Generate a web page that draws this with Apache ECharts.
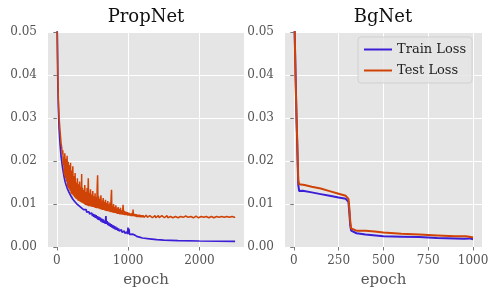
<!DOCTYPE html>
<html>
<head>
<meta charset="utf-8">
<script src="https://cdn.jsdelivr.net/npm/echarts@6/dist/echarts.min.js"></script>
<style>html,body{margin:0;padding:0;background:#fff;}#c{width:499px;height:299px;}</style>
</head>
<body>
<div id="c"></div>
<script>
const titles = ['PropNet', 'BgNet'];
const seriesNames = ['Train Loss', 'Test Loss'];
const yTicks = [0, 0.01, 0.02, 0.03, 0.04, 0.05];
const propXTicks = [0, 1000, 2000];
const bgXTicks = [0, 250, 500, 750, 1000];

const propTrain = [[1,0.09],[5,0.05],[14,0.038],[22,0.032],[32,0.0275],[45,0.024],[60,0.021],[80,0.0185],[100,0.0165],[115,0.0153],[130,0.0144],[145,0.0137],[160,0.0131],[180,0.0124],[200,0.0118],[225,0.0111],[250,0.0106],[275,0.0101],[300,0.0097],[325,0.0094],[350,0.0091],[375,0.0087],[400,0.0084],[410,0.0087],[420,0.0081],[430,0.0085],[440,0.0079],[450,0.0082],[460,0.0077],[470,0.0081],[480,0.0074],[490,0.0079],[500,0.0072],[510,0.0077],[520,0.0070],[530,0.0076],[540,0.0068],[550,0.0074],[560,0.0066],[570,0.0072],[580,0.0063],[590,0.0070],[600,0.0062],[610,0.0068],[620,0.0059],[630,0.0066],[640,0.0057],[650,0.0064],[660,0.0056],[670,0.0061],[680,0.0054],[688,0.0072],[695,0.0054],[705,0.0060],[715,0.0051],[725,0.0057],[735,0.0049],[745,0.0055],[755,0.0047],[765,0.0053],[775,0.0045],[785,0.0051],[795,0.0043],[805,0.0049],[815,0.0041],[825,0.0047],[835,0.0040],[845,0.0045],[855,0.0038],[865,0.0043],[875,0.0037],[885,0.0041],[895,0.0035],[905,0.0040],[915,0.0034],[925,0.0038],[935,0.0033],[945,0.0037],[955,0.0032],[965,0.0036],[975,0.0031],[985,0.0035],[992,0.0030],[998,0.0045],[1004,0.0031],[1012,0.0042],[1020,0.0029],[1030,0.0033],[1045,0.0028],[1060,0.0030],[1080,0.0026],[1100,0.0027],[1130,0.0024],[1160,0.0023],[1200,0.0021],[1300,0.0019],[1400,0.0017],[1500,0.0016],[1700,0.0015],[2000,0.0014],[2500,0.0013]];

const propTest = [[1,0.09],[5,0.052],[14,0.040],[22,0.034],[32,0.030],[45,0.027],[60,0.024],[68,0.0232],[76,0.0215],[84,0.0225],[90,0.0190],[96,0.0210],[104,0.0168],[112,0.0218],[120,0.0160],[128,0.0205],[136,0.0152],[144,0.0212],[152,0.0140],[160,0.0198],[168,0.0136],[176,0.0190],[184,0.0131],[192,0.0196],[200,0.0124],[208,0.0178],[216,0.0122],[224,0.0188],[232,0.0119],[240,0.0165],[248,0.0116],[256,0.0172],[264,0.0113],[272,0.0150],[280,0.0111],[288,0.0160],[296,0.0108],[304,0.0146],[312,0.0107],[320,0.0152],[328,0.0105],[336,0.0140],[344,0.0104],[348,0.0170],[352,0.0103],[360,0.0138],[368,0.0102],[376,0.0133],[384,0.0100],[392,0.0144],[400,0.0098],[408,0.0128],[416,0.0097],[424,0.0137],[432,0.0096],[441,0.0160],[448,0.0095],[456,0.0126],[464,0.0095],[472,0.0134],[480,0.0094],[488,0.0122],[496,0.0093],[504,0.0130],[512,0.0093],[520,0.0118],[528,0.0092],[536,0.0125],[544,0.0091],[552,0.0116],[560,0.0090],[566,0.0140],[572,0.0167],[578,0.0090],[586,0.0118],[594,0.0089],[602,0.0112],[610,0.0088],[618,0.0120],[626,0.0087],[634,0.0108],[642,0.0086],[650,0.0114],[658,0.0086],[666,0.0105],[674,0.0085],[682,0.0110],[690,0.0084],[698,0.0102],[706,0.0083],[714,0.0107],[722,0.0083],[730,0.0099],[738,0.0082],[746,0.0104],[754,0.0081],[762,0.0118],[767,0.0133],[772,0.0081],[780,0.0096],[788,0.0080],[796,0.0100],[804,0.0079],[812,0.0093],[820,0.0079],[828,0.0097],[836,0.0078],[844,0.0090],[852,0.0077],[860,0.0093],[868,0.0077],[876,0.0088],[884,0.0076],[892,0.0091],[900,0.0076],[910,0.0085],[920,0.0075],[929,0.0098],[936,0.0075],[946,0.0084],[956,0.0074],[966,0.0082],[976,0.0074],[986,0.0081],[996,0.0073],[1008,0.0080],[1020,0.0073],[1032,0.0078],[1044,0.0072],[1056,0.0079],[1064,0.0072],[1069,0.0087],[1076,0.0072],[1090,0.0077],[1100,0.0071],[1112,0.0076],[1124,0.0070],[1136,0.0075],[1148,0.0070],[1160,0.0075],[1172,0.0069],[1184,0.0074],[1196,0.0069],
[1208,0.0074],[1220,0.0069],[1232,0.0073],[1244,0.0068],[1256,0.0074],[1268,0.0069],[1280,0.0072],[1292,0.0068],[1304,0.0073],[1316,0.0069],[1328,0.0074],[1340,0.0068],[1352,0.0072],[1364,0.0069],[1376,0.0073],[1388,0.0068],[1400,0.0072],[1412,0.0069],[1424,0.0073],[1436,0.0068],[1448,0.0072],[1460,0.0068],[1472,0.0073],[1484,0.0069],[1496,0.0072],[1508,0.0068],[1520,0.0072],[1532,0.0069],[1544,0.0073],[1556,0.0068],[1568,0.0072],[1580,0.0068],[1592,0.0071],[1604,0.0069],[1616,0.0072],[1628,0.0068],[1640,0.0072],[1652,0.0068],[1664,0.0071],[1676,0.0069],[1688,0.0072],[1700,0.0068],[1712,0.0072],[1724,0.0068],[1736,0.0071],[1748,0.0068],[1760,0.0072],[1772,0.0069],[1784,0.0071],[1796,0.0068],[1808,0.0072],[1820,0.0068],[1832,0.0071],[1844,0.0069],[1856,0.0072],[1868,0.0068],[1880,0.0071],[1892,0.0068],[1904,0.0072],[1916,0.0068],[1928,0.0071],[1940,0.0069],[1952,0.0072],[1964,0.0068],[1976,0.0071],[1988,0.0068],[2000,0.0072],[2012,0.0068],[2024,0.0071],[2036,0.0068],[2048,0.0071],[2060,0.0069],[2072,0.0072],[2084,0.0068],[2096,0.0071],[2108,0.0068],[2120,0.0071],[2132,0.0068],[2144,0.0072],[2156,0.0068],[2168,0.0071],[2180,0.0069],[2192,0.0071],[2204,0.0068],[2216,0.0072],[2228,0.0068],[2240,0.0071],[2252,0.0068],[2264,0.0071],[2276,0.0069],[2288,0.0072],[2300,0.0068],[2312,0.0071],[2324,0.0068],[2336,0.0071],[2348,0.0069],[2360,0.0072],[2372,0.0068],[2384,0.0071],[2396,0.0068],[2408,0.0071],[2420,0.0069],[2432,0.0072],[2444,0.0068],[2456,0.0071],[2468,0.0068],[2480,0.0071],[2492,0.0069],[2500,0.0070]];

const bgTrain = [[1,0.06],[5,0.05],[10,0.04],[15,0.031],[20,0.022],[25,0.0145],[30,0.013],[35,0.0134],[40,0.013],[50,0.0131],[100,0.0127],[150,0.0123],[200,0.0119],[250,0.0115],[290,0.0112],[300,0.0111],[305,0.0105],[310,0.008],[315,0.005],[320,0.0038],[330,0.0034],[350,0.0032],[400,0.0029],[500,0.0025],[600,0.0024],[700,0.0023],[800,0.0021],[900,0.0020],[950,0.0019],[980,0.0020],[1000,0.0018]];

const bgTest = [[1,0.065],[5,0.05],[10,0.039],[15,0.03],[20,0.024],[25,0.0155],[30,0.0146],[35,0.0148],[40,0.0146],[60,0.0144],[100,0.0140],[150,0.0136],[200,0.0130],[250,0.0124],[290,0.0119],[300,0.0117],[305,0.0112],[310,0.009],[315,0.006],[320,0.0043],[330,0.0040],[350,0.0038],[400,0.0038],[450,0.0036],[500,0.0034],[600,0.0031],[700,0.0029],[800,0.0027],[900,0.0025],[960,0.0025],[970,0.0027],[980,0.0024],[1000,0.0022]];

const FONT = '"DejaVu Serif", serif';
const BLUE = '#3a1fd6';
const ORANGE = '#d04306';

function xAxis(idx, min, max, ticks) {
  return {
    type: 'value', gridIndex: idx, min: min, max: max,
    name: 'epoch', nameLocation: 'middle', nameGap: 26,
    nameTextStyle: {fontFamily: FONT, fontSize: 15, color: '#555'},
    axisLine: {show: false},
    axisTick: {show: true, length: 3.5, lineStyle: {color: '#555', width: 0.8}, customValues: ticks},
    axisLabel: {fontFamily: FONT, fontSize: 12, color: '#555', margin: 8, customValues: ticks, formatter: v => String(v)},
    splitLine: {show: true, lineStyle: {color: '#ffffff', width: 1}}
  };
}
function yAxis(idx) {
  return {
    type: 'value', gridIndex: idx, min: yTicks[0], max: yTicks[yTicks.length - 1], interval: 0.01,
    axisLine: {show: false},
    axisTick: {show: true, length: 3.5, lineStyle: {color: '#555', width: 0.8}},
    axisLabel: {fontFamily: FONT, fontSize: 12, color: '#555', margin: 11, formatter: v => v.toFixed(2)},
    splitLine: {show: true, lineStyle: {color: '#ffffff', width: 1}}
  };
}
function line(name, data, color, xi, yi, z, w) {
  return {
    type: 'line', name: name, data: data, xAxisIndex: xi, yAxisIndex: yi,
    symbol: 'none', showSymbol: false, animation: false, clip: true, z: z,
    lineStyle: {color: color, width: w}, itemStyle: {color: color}
  };
}

const chart = echarts.init(document.getElementById('c'));
chart.setOption({
  backgroundColor: '#ffffff',
  animation: false,
  graphic: [
    {type: 'text', x: 146, y: 17, style: {text: titles[0], fontFamily: FONT, fontSize: 18, fill: '#111', textAlign: 'center', textVerticalAlign: 'middle'}},
    {type: 'text', x: 383, y: 17, style: {text: titles[1], fontFamily: FONT, fontSize: 18, fill: '#111', textAlign: 'center', textVerticalAlign: 'middle'}}
  ],
  grid: [
    {left: 48, top: 32, width: 196, height: 215, show: true, backgroundColor: '#e5e5e5', borderWidth: 0},
    {left: 285, top: 32, width: 197, height: 215, show: true, backgroundColor: '#e5e5e5', borderWidth: 0}
  ],
  xAxis: [xAxis(0, -124, 2625, propXTicks), xAxis(1, -49, 1050, bgXTicks)],
  yAxis: [yAxis(0), yAxis(1)],
  legend: {
    data: seriesNames, orient: 'vertical', left: 358, top: 37,
    icon: 'rect', itemWidth: 28, itemHeight: 2, itemGap: 8,
    padding: [6, 6, 6, 6],
    backgroundColor: 'rgba(229,229,229,0.8)', borderColor: 'rgba(204,204,204,0.8)', borderWidth: 1, borderRadius: 3,
    textStyle: {fontFamily: FONT, fontSize: 13, color: '#222', padding: [6, 0, 6, 0]}
  },
  series: [
    line(seriesNames[0], propTrain, BLUE, 0, 0, 2, 1.7),
    line(seriesNames[1], propTest, ORANGE, 0, 0, 3, 1.5),
    line(seriesNames[0], bgTrain, BLUE, 1, 1, 2, 2),
    line(seriesNames[1], bgTest, ORANGE, 1, 1, 3, 2)
  ]
});
</script>
</body>
</html>
